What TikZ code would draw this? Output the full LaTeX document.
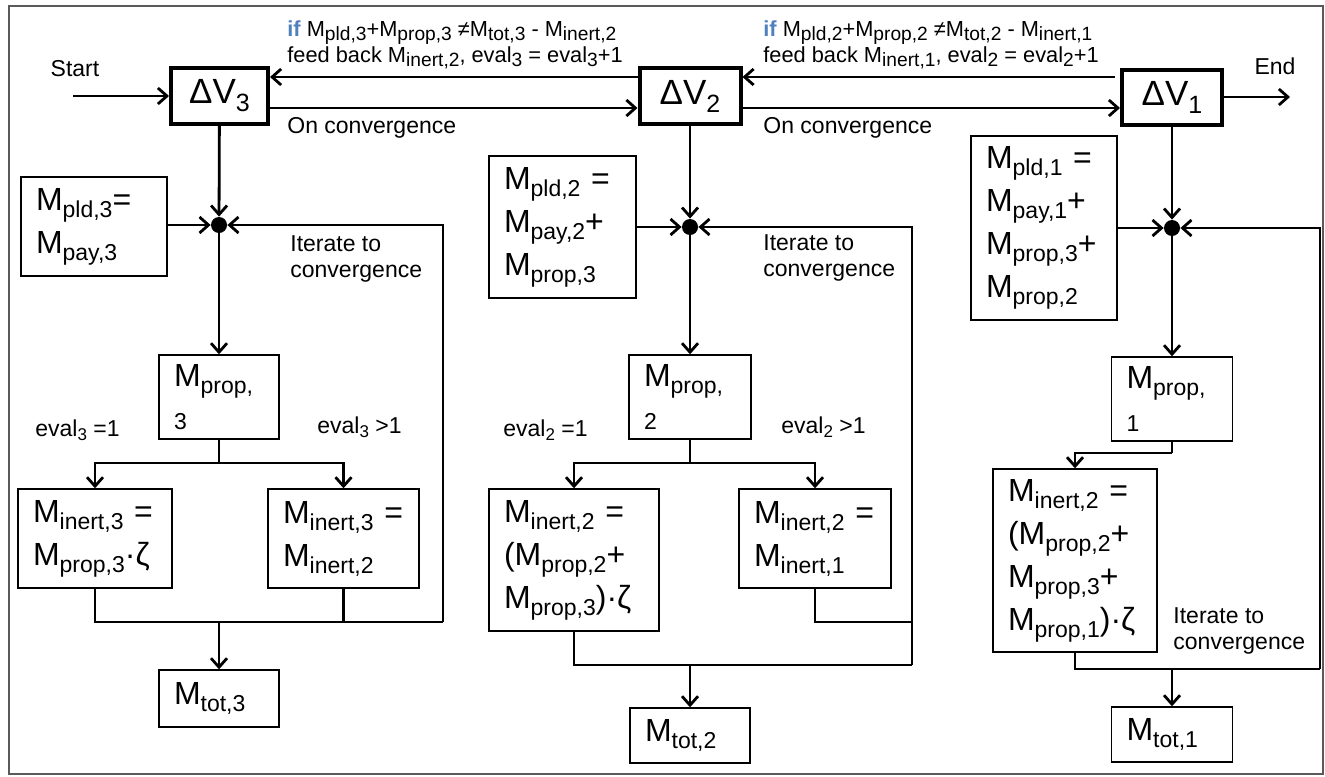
\documentclass[tikz,border=0pt]{standalone}
\usepackage{fontspec}
\setmainfont{Liberation Sans}
\usetikzlibrary{arrows.meta,positioning}

% subscripts for the big box text, the small labels, the feedback labels and the Delta V boxes
\newcommand{\sbig}[1]{\raisebox{-3.5pt}{\fontsize{11.5}{12}\selectfont #1}}
\newcommand{\ssml}[1]{\raisebox{-2pt}{\fontsize{8.5}{9}\selectfont #1}}
\newcommand{\sfb}[1]{\raisebox{-2pt}{\fontsize{9.6}{10}\selectfont #1}}
\newcommand{\sdv}[1]{\raisebox{-4pt}{\fontsize{12.5}{13}\selectfont #1}}

\begin{document}
\begin{tikzpicture}[x=0.5pt, y=-0.5pt,
    mbox/.style={draw, line width=0.7pt, align=left, inner xsep=7.5pt, inner ysep=0pt, font=\fontsize{16}{21.5}\selectfont},
    dvbox/.style={draw, line width=2pt, inner sep=0pt, font=\fontsize{17.5}{20}\selectfont},
    lbl/.style={font=\fontsize{11.5}{13}\selectfont, inner sep=0pt, align=left},
    fblbl/.style={font=\fontsize{10.9}{13}\selectfont, inner sep=0pt, align=left},
    line/.style={line width=1.4pt},
    arr/.style={line width=1.4pt, -{Straight Barb[length=4.5pt,width=8pt]}},
    jdot/.style={circle, fill=black, inner sep=0pt, minimum size=8pt}]
                \definecolor{ifblue}{RGB}{79,129,189}
                \definecolor{framegray}{RGB}{90,90,90}

                \useasboundingbox (0,0) rectangle (1325,776);
                \draw[framegray, line width=1pt] (9,6) rectangle (1323,774);

                % Delta V boxes along the top
                \node[dvbox, minimum width=48.5pt, minimum height=28pt] (dv3) at (219.5,96) {ΔV\sdv{3}};
                \node[dvbox, minimum width=50.5pt, minimum height=28pt] (dv2) at (690,96) {ΔV\sdv{2}};
                \node[dvbox, minimum width=50pt, minimum height=27.5pt] (dv1) at (1172,97) {ΔV\sdv{1}};

                \node[lbl] (start) at (75,69) {Start};
                \node[lbl] (end) at (1275,66) {End};
                \coordinate (startpt) at (73,96);
                \coordinate (endpt) at (1290,97);
                \coordinate (rowA) at (0,77);
                \coordinate (rowB) at (0,108);
                \coordinate (fb1) at (1115,77);

                \node[fblbl, anchor=west] (fb3) at (287,45) {{\color{ifblue}\bfseries if} M\sfb{pld,3}+M\sfb{prop,3} ≠M\sfb{tot,3} - M\sfb{inert,2}\\feed back M\sfb{inert,2}, eval\sfb{3} = eval\sfb{3}+1};
                \node[fblbl, anchor=west] (fb2) at (763,45) {{\color{ifblue}\bfseries if} M\sfb{pld,2}+M\sfb{prop,2} ≠M\sfb{tot,2} - M\sfb{inert,1}\\feed back M\sfb{inert,1}, eval\sfb{2} = eval\sfb{2}+1};
                \node[lbl, anchor=west] (conv3) at (287,128) {On convergence};
                \node[lbl, anchor=west] (conv2) at (763,128) {On convergence};

                \draw[arr] (startpt) -- (dv3);
                \draw[arr] (dv1) -- (endpt);
                \draw[arr] (dv2.west |- rowA) -- (dv3.east |- rowA);
                \draw[arr] (dv3.east |- rowB) -- (dv2.west |- rowB);
                \draw[arr] (fb1) -- (dv2.east |- rowA);
                \draw[arr] (dv2.east |- rowB) -- (dv1.west |- rowB);

                % Stage 3 (left column)
                \node[jdot] (j3) at (219,225) {};
                \node[mbox, text width=58pt, minimum height=49.5pt] (pld3) at (94,226.5) {M\sbig{pld,3}=\\M\sbig{pay,3}};
                \node[mbox, text width=45pt, minimum height=42pt] (prop3) at (219,397) {M\sbig{prop,}\\{\fontsize{11.5}{12}\selectfont 3}};
                \node[mbox, text width=62pt, minimum height=49.5pt] (inA3) at (95,538.5) {M\sbig{inert,3} =\\M\sbig{prop,3}·ζ};
                \node[mbox, text width=60.5pt, minimum height=49.5pt] (inB3) at (343.5,538.5) {M\sbig{inert,3} =\\M\sbig{inert,2}};
                \node[mbox, text width=45pt, minimum height=28.5pt] (tot3) at (219,698.5) {M\sbig{tot,3}};
                \node[lbl, anchor=west] (ev3a) at (35,430) {eval\ssml{3} =1};
                \node[lbl, anchor=west] (ev3b) at (317,427) {eval\ssml{3} >1};
                \node[lbl, anchor=west] (it3) at (290,259) {Iterate to\\convergence};
                \coordinate (s3) at (219,463);
                \coordinate (r3) at (443,622);

                \draw[arr] (dv3) -- (j3);
                \draw[arr] (pld3.east |- j3) -- (j3);
                \draw[arr] (j3) -- (prop3);
                \draw[line] (prop3) -- (s3);
                \draw[arr] (s3) -| (inA3);
                \draw[arr] (s3) -| (inB3);
                \draw[line] (inA3) |- (r3);
                \draw[line] (inB3) -- (inB3 |- r3);
                \draw[arr] (r3) |- (j3);
                \draw[arr] (j3 |- r3) -- (tot3);

                % Stage 2 (middle column)
                \node[jdot] (j2) at (690,227) {};
                \node[mbox, text width=58.5pt, minimum height=71pt] (pld2) at (562.5,227) {M\sbig{pld,2} =\\M\sbig{pay,2}+\\M\sbig{prop,3}};
                \node[mbox, text width=46pt, minimum height=42pt] (prop2) at (690,397) {M\sbig{prop,}\\{\fontsize{11.5}{12}\selectfont 2}};
                \node[mbox, text width=70pt, minimum height=71pt] (inA2) at (574,560) {M\sbig{inert,2} =\\(M\sbig{prop,2}+\\M\sbig{prop,3})·ζ};
                \node[mbox, text width=61pt, minimum height=49.5pt] (inB2) at (815,538.5) {M\sbig{inert,2} =\\M\sbig{inert,1}};
                \node[mbox, text width=45pt, minimum height=27.5pt] (tot2) at (690,735.5) {M\sbig{tot,2}};
                \node[lbl, anchor=west] (ev2a) at (503,430) {eval\ssml{2} =1};
                \node[lbl, anchor=west] (ev2b) at (781,427) {eval\ssml{2} >1};
                \node[lbl, anchor=west] (it2) at (763,258) {Iterate to\\convergence};
                \coordinate (s2) at (690,463);
                \coordinate (r2a) at (912,622);
                \coordinate (r2b) at (912,665);

                \draw[arr] (dv2) -- (j2);
                \draw[arr] (pld2.east |- j2) -- (j2);
                \draw[arr] (j2) -- (prop2);
                \draw[line] (prop2) -- (s2);
                \draw[arr] (s2) -| (inA2);
                \draw[arr] (s2) -| (inB2);
                \draw[line] (inB2) |- (r2a);
                \draw[line] (inA2) |- (r2b);
                \draw[arr] (r2b) |- (j2);
                \draw[arr] (j2 |- r2b) -- (tot2);

                % Stage 1 (right column)
                \node[jdot] (j1) at (1172,228) {};
                \node[mbox, text width=58pt, minimum height=92pt] (pld1) at (1044,228) {M\sbig{pld,1} =\\M\sbig{pay,1}+\\M\sbig{prop,3}+\\M\sbig{prop,2}};
                \node[mbox, text width=45.5pt, minimum height=42pt] (prop1) at (1172,399) {M\sbig{prop,}\\{\fontsize{11.5}{12}\selectfont 1}};
                \node[mbox, text width=67pt, minimum height=91.5pt] (in1) at (1075,560.5) {M\sbig{inert,2} =\\(M\sbig{prop,2}+\\M\sbig{prop,3}+\\M\sbig{prop,1})·ζ};
                \node[mbox, text width=45.5pt, minimum height=27.5pt] (tot1) at (1172,734.5) {M\sbig{tot,1}};
                \node[lbl, anchor=west] (it1) at (1173,631) {Iterate to\\convergence};
                \coordinate (s1) at (1172,453);
                \coordinate (r1) at (1320,669);

                \draw[arr] (dv1) -- (j1);
                \draw[arr] (pld1.east |- j1) -- (j1);
                \draw[arr] (j1) -- (prop1);
                \draw[line] (prop1) -- (s1);
                \draw[arr] (s1) -| (in1);
                \draw[line] (in1) |- (r1);
                \draw[arr] (r1) |- (j1);
                \draw[arr] (j1 |- r1) -- (tot1);
            \end{tikzpicture}
\end{document}
